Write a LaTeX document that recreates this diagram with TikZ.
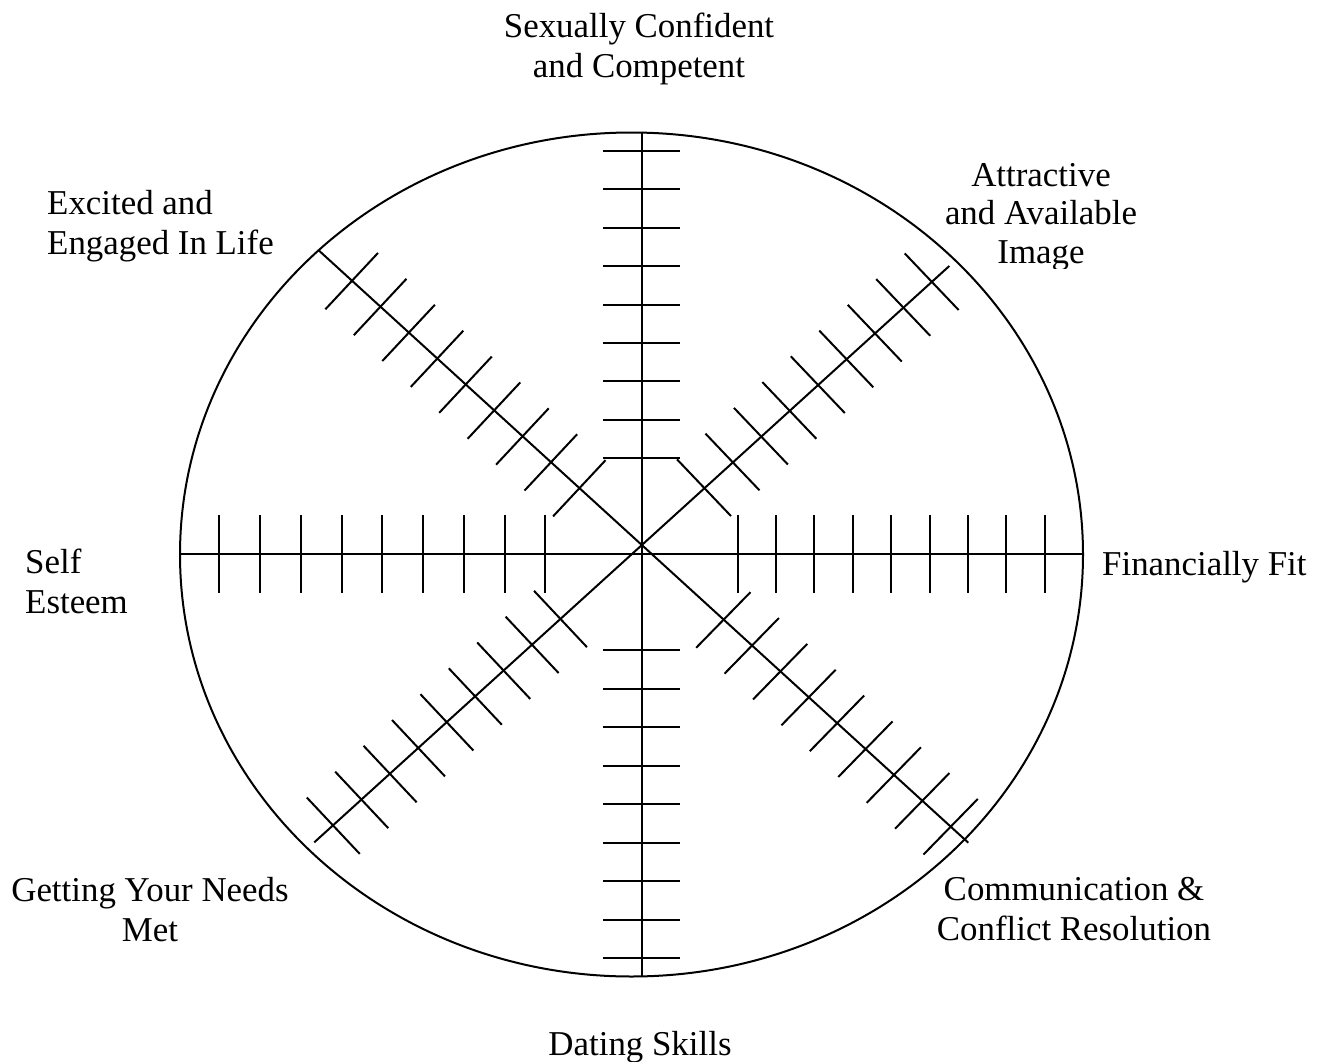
\documentclass[tikz,border=0pt]{standalone}
\usepackage{fontspec}
\setmainfont{Liberation Serif}
\usepackage{tikz}
\usetikzlibrary{arrows,shapes}

\begin{document}
\begin{tikzpicture}[x=1bp,y=1bp,
  spoke/.style={line width=2bp},
  lbl/.style={font=\fontsize{35}{40}\selectfont,inner sep=0pt}]
\useasboundingbox (0bp,0bp) rectangle (1320bp,-1062bp);
\draw [spoke] (631.5bp,-554.5bp) ellipse (451.5bp and 422bp);
\coordinate (N) at (642bp,-132.5bp);
\coordinate (S) at (642bp,-976.5bp);
\coordinate (W) at (180bp,-554bp);
\coordinate (E) at (1082.5bp,-554bp);
\coordinate (NW) at (318.3bp,-250bp);
\coordinate (NE) at (949.3bp,-266bp);
\coordinate (SE) at (968.3bp,-842.7bp);
\coordinate (SW) at (314.3bp,-842.3bp);
\draw [spoke] (N) -- (S);
\draw [spoke] (W) -- (E);
\draw [spoke] (NW) -- (SE);
\draw [spoke] (NE) -- (SW);
% ticks
\foreach \k in {0,...,8} {
  \draw [spoke] (603,{-round(151+38.4*\k)}) -- ++(77,0);
  \draw [spoke] (603,{-round(650+38.5*\k)}) -- ++(77,0);
  \draw [spoke] ({round(219.3+40.75*\k)},-515) -- ++(0,-78);
  \draw [spoke] ({round(737.7+38.4*\k)},-515) -- ++(0,-78);
  \draw [spoke] ({605.6-28.45*\k},{-460.15+25.9*\k}) -- ++(-52.6,-56.3);
  \draw [spoke] ({677+28.46*\k},{-459.35+25.75*\k}) -- ++(54,-56.7);
  \draw [spoke] ({750.45+28.42*\k},{-592.2-25.84*\k}) -- ++(-54.3,-55.6);
  \draw [spoke] ({587-28.4*\k},{-647.2-25.84*\k}) -- ++(-53,56.4);
}
% labels (base = last line)
\node (SC) at (639bp,-77.3bp)[lbl,anchor=base,align=center] {Sexually Confident\\and Competent};
\begin{scope}
\clip (900bp,-140bp) rectangle (1200bp,-268bp);
\node (AA) at (1041bp,-263.3bp)[lbl,anchor=base,align=center,font=\fontsize{35}{38.5}\selectfont] {Attractive\\and Available\\Image};
\end{scope}
\node (EE) at (47bp,-254bp)[lbl,anchor=base west,align=left] {Excited and\\Engaged In Life};
\node (SE) at (25bp,-613bp)[lbl,anchor=base west,align=left] {Self\\Esteem};
\node (FF) at (1102bp,-575bp)[lbl,anchor=base west] {Financially Fit};
\node (GN) at (150bp,-941.7bp)[lbl,anchor=base,align=center] {Getting Your Needs\\Met};
\node (CC) at (1074bp,-940bp)[lbl,anchor=base,align=center] {Communication \&\\Conflict Resolution};
\node (DS) at (640bp,-1055bp)[lbl,anchor=base] {Dating Skills};
\end{tikzpicture}
\end{document}
